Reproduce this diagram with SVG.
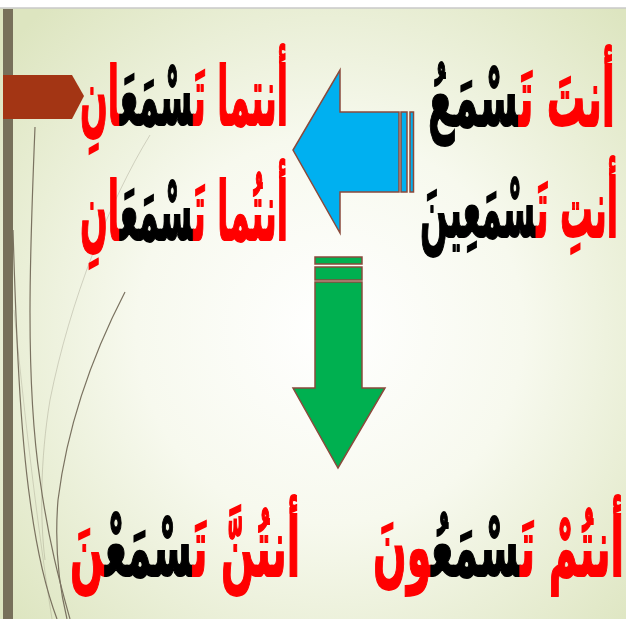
<svg xmlns="http://www.w3.org/2000/svg" width="626" height="619" viewBox="0 0 626 619">
<defs>
<radialGradient id="bg" cx="330" cy="330" r="430" gradientUnits="userSpaceOnUse">
<stop offset="0" stop-color="#ffffff"/>
<stop offset="0.45" stop-color="#f7f9ee"/>
<stop offset="1" stop-color="#dde5c0"/>
</radialGradient>
<style>
.w{font-family:"DejaVu Sans",sans-serif;font-weight:bold;font-size:82px;direction:rtl;}
.r{fill:#ff0000;stroke:#ff0000;stroke-width:1.8;}
.k{fill:#000000;stroke:#000000;stroke-width:1.8;}
.wisp{fill:none;stroke:#7a7260;}
.arrow{stroke:#8a4a3c;stroke-width:1.5;}
</style>
</defs>
<rect x="0" y="0" width="626" height="619" fill="#ffffff"/>
<rect x="0" y="8" width="626" height="611" fill="url(#bg)"/>
<line x1="0" y1="8" x2="626" y2="8" stroke="#c8c8c8" stroke-width="1.5"/>
<g id="decor">
<rect x="3" y="9" width="10" height="610" fill="#77705a"/>
<path class="wisp" stroke-width="1.2" d="M35 127 C30 250 25 380 40 480 C50 550 62 590 70 619"/>
<path class="wisp" stroke-width="1.2" d="M13 230 C16 330 20 430 30 500 C38 560 48 595 57 619"/>
<path class="wisp" stroke-width="1.2" d="M125 292 C95 350 68 420 58 500 C54 550 60 590 67 619"/>
<path class="wisp" stroke-width="0.8" opacity="0.35" d="M150 135 C110 200 70 300 50 400 C40 460 40 520 45 560"/>
<path class="wisp" stroke-width="0.8" opacity="0.3" d="M14 310 C25 420 38 530 52 619"/>
<polygon points="3,75 72,75 84,96 72,119 3,119" fill="#a33514"/>
</g>
<g id="connectors">
<g id="arrow-left" class="arrow" fill="#00b0f0">
<polygon points="399,112 340,112 340,70 293,150 340,233 340,192 399,192"/>
<rect x="401" y="112" width="6" height="80"/>
<rect x="410" y="112" width="3.5" height="80"/>
</g>
<g id="arrow-down" class="arrow" fill="#00b050">
<polygon points="315,282 362,282 362,388 385,388 338,468 293,388 315,388"/>
<rect x="315" y="257" width="47" height="7"/>
<rect x="315" y="267" width="47" height="13"/>
</g>
</g>
<g id="node-anta">
<text class="w" x="615" y="126" textLength="187" lengthAdjust="spacingAndGlyphs"><tspan class="r">أنتَ تَ</tspan><tspan class="k">سْمَعُ</tspan></text>
</g>
<g id="node-anti">
<text class="w" x="618" y="237" textLength="198" lengthAdjust="spacingAndGlyphs"><tspan class="r">أنتِ تَ</tspan><tspan class="k">سْمَعِينَ</tspan></text>
</g>
<g id="node-antuma1">
<text class="w" x="288" y="125" textLength="208" lengthAdjust="spacingAndGlyphs"><tspan class="r">أنتما تَ</tspan><tspan class="k">سْمَعَ</tspan><tspan class="r">انِ</tspan></text>
</g>
<g id="node-antuma2">
<text class="w" x="288" y="240" textLength="208" lengthAdjust="spacingAndGlyphs"><tspan class="r">أنتُما تَ</tspan><tspan class="k">سْمَعَ</tspan><tspan class="r">انِ</tspan></text>
</g>
<g id="node-antum">
<text class="w" x="624" y="576" textLength="251" lengthAdjust="spacingAndGlyphs"><tspan class="r">أنتُمْ تَ</tspan><tspan class="k">سْمَعُ</tspan><tspan class="r">ونَ</tspan></text>
</g>
<g id="node-antunna">
<text class="w" x="300" y="576" textLength="230" lengthAdjust="spacingAndGlyphs"><tspan class="r">أنتُنَّ تَ</tspan><tspan class="k">سْمَعْ</tspan><tspan class="r">نَ</tspan></text>
</g>
</svg>
